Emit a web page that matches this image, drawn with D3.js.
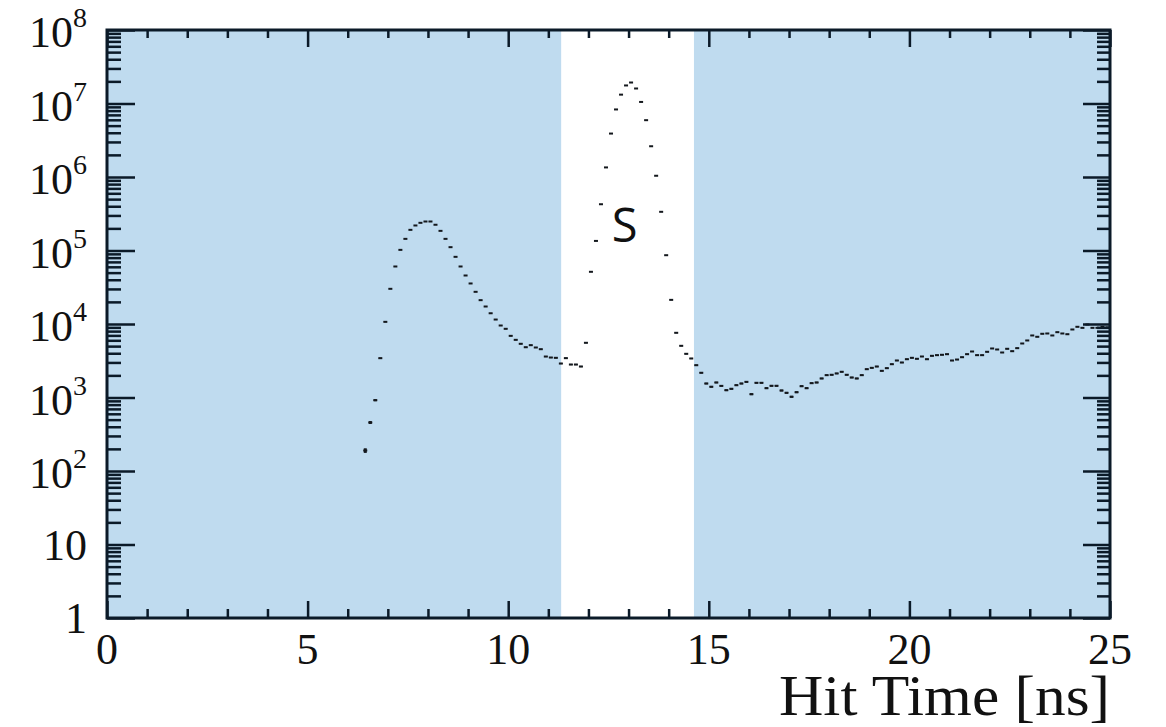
<!DOCTYPE html>
<html>
<head>
<meta charset="utf-8">
<script src="https://cdn.jsdelivr.net/npm/d3@7/dist/d3.min.js"></script>
<style>
  html, body { margin: 0; padding: 0; background: #fff; }
  svg { display: block; }
</style>
</head>
<body>
<svg id="chart" width="1166" height="727"></svg>
<script>
// Histogram binning of hit times (ns)
const binStart = 6.375;
const binWidth = 0.125;

// Entries per bin, starting at binStart
const counts = [
  190, 457, 919, 3427, 10700, 30100, 60600, 102000, 144000, 191000,
  219000, 238000, 248000, 248000, 224000, 185000, 144000, 111000, 82000, 60600,
  45700, 35600, 27400, 21100, 17300, 14000, 11500, 9540, 8600, 6900,
  6090, 5380, 4830, 5150, 4790, 4540, 3610, 3500, 3467, 2900,
  3430, 2810, 2810, 2640, 5550, 51300, 135000, 426000, 1350000, 3900000,
  8300000, 13200000, 17600000, 19300000, 16000000, 10500000, 5930000, 2620000, 1040000, 336000,
  86300, 21300, 7590, 5050, 3930, 3395, 2750, 2170, 1550, 1400,
  1600, 1440, 1257, 1313, 1470, 1550, 1633, 1109, 1585, 1585,
  1339, 1443, 1443, 1245, 1158, 1023, 1180, 1425, 1339, 1566,
  1600, 1815, 2013, 2038, 2124, 2238, 2038, 1871, 1815, 2013,
  2427, 2533, 2640, 2307, 2505, 2838, 3187, 2993, 3318, 3467,
  3362, 3613, 3318, 3690, 3767, 3811, 3884, 3187, 3286, 3533,
  3884, 4226, 3767, 3767, 4186, 4645, 4500, 4094, 4600, 4266,
  4690, 5430, 5970, 6980, 6700, 7360, 7430, 6980, 7740, 7430,
  7260, 8420, 9160, 8870, 9840, 8870, 8870, 9160, 9000
];

// Background (shaded) time windows outside the signal window
const shadedWindows = [[0, 11.32], [14.63, 25]];
const signalLabel = "S";
const signalLabelTime = 12.9;
const signalLabelCount = 1.3e5;

// Axis ticks
const xMajorTicks = [0, 5, 10, 15, 20, 25];
const xMinorTicks = [1, 2, 3, 4, 6, 7, 8, 9, 11, 12, 13, 14, 16, 17, 18, 19, 21, 22, 23, 24];
const yExponents = [0, 1, 2, 3, 4, 5, 6, 7, 8];
const xTitle = "Hit Time [ns]";

const svg = d3.select("#chart");
const margin = { left: 107, top: 30, right: 56, bottom: 109 };
const W = 1166, H = 727;
const plotW = W - margin.left - margin.right;
const plotH = H - margin.top - margin.bottom;

const x = d3.scaleLinear().domain([0, 25]).range([0, plotW]);
const y = d3.scaleLog().domain([1, 1e8]).range([plotH, 0]);

const g = svg.append("g").attr("transform", `translate(${margin.left},${margin.top})`);

// shaded windows
g.selectAll("rect.window")
  .data(shadedWindows)
  .join("rect")
  .attr("class", "window")
  .attr("x", d => x(d[0]))
  .attr("y", 0)
  .attr("width", d => x(d[1]) - x(d[0]))
  .attr("height", plotH)
  .attr("fill", "#bfdbef");

// signal window label
g.append("text")
  .attr("x", x(signalLabelTime))
  .attr("y", y(signalLabelCount))
  .attr("text-anchor", "middle")
  .attr("font-family", "'Open Sans', 'DejaVu Sans', sans-serif")
  .attr("font-size", 47)
  .attr("fill", "#111")
  .text(signalLabel);

// histogram points with statistical error bars
const pts = counts.map((c, i) => ({ t: binStart + (i + 0.5) * binWidth, c }));
const markColor = "#14181d";
const ptG = g.append("g");
ptG.selectAll("rect.pt")
  .data(pts)
  .join("rect")
  .attr("class", "pt")
  .attr("x", d => x(d.t) - 2)
  .attr("y", d => y(d.c) - 1)
  .attr("width", 4)
  .attr("height", 2)
  .attr("fill", markColor);
ptG.selectAll("line.err")
  .data(pts)
  .join("line")
  .attr("class", "err")
  .attr("x1", d => x(d.t))
  .attr("x2", d => x(d.t))
  .attr("y1", d => y(d.c + Math.sqrt(d.c)))
  .attr("y2", d => y(Math.max(1, d.c - Math.sqrt(d.c))))
  .attr("stroke", markColor)
  .attr("stroke-width", 3);

// axes ticks (inward, on all four sides)
const tickColor = "#0b1a28";
function styleAxis(sel) {
  sel.select(".domain").remove();
  sel.selectAll(".tick line").attr("stroke", tickColor).attr("stroke-width", 2.5);
  sel.selectAll(".tick text").remove();
}
const yMinor = [];
for (let e = 0; e < 8; e++) for (let m = 2; m <= 9; m++) yMinor.push(m * Math.pow(10, e));
const yMajor = yExponents.map(e => Math.pow(10, e));

g.append("g").call(d3.axisBottom(x).tickValues(xMajorTicks).tickSize(-17))
  .attr("transform", `translate(0,${plotH})`).call(styleAxis);
g.append("g").call(d3.axisBottom(x).tickValues(xMinorTicks).tickSize(-9))
  .attr("transform", `translate(0,${plotH})`).call(styleAxis);
g.append("g").call(d3.axisTop(x).tickValues(xMajorTicks).tickSize(-17)).call(styleAxis);
g.append("g").call(d3.axisTop(x).tickValues(xMinorTicks).tickSize(-8)).call(styleAxis);
g.append("g").call(d3.axisLeft(y).tickValues(yMajor).tickSize(-28)).call(styleAxis);
g.append("g").call(d3.axisLeft(y).tickValues(yMinor).tickSize(-14)).call(styleAxis);
g.append("g").call(d3.axisRight(y).tickValues(yMajor).tickSize(-27))
  .attr("transform", `translate(${plotW},0)`).call(styleAxis);
g.append("g").call(d3.axisRight(y).tickValues(yMinor).tickSize(-13))
  .attr("transform", `translate(${plotW},0)`).call(styleAxis);

// frame
g.append("rect")
  .attr("x", 0).attr("y", 0)
  .attr("width", plotW).attr("height", plotH)
  .attr("fill", "none")
  .attr("stroke", tickColor)
  .attr("stroke-width", 3);

// x tick labels
const serif = "'Liberation Serif', 'Times New Roman', serif";
g.selectAll("text.xl")
  .data(xMajorTicks)
  .join("text")
  .attr("class", "xl")
  .attr("x", d => x(d))
  .attr("y", plotH + 46)
  .attr("text-anchor", "middle")
  .attr("font-family", serif)
  .attr("font-size", 44)
  .attr("fill", "#111")
  .text(d => d);

// y tick labels (powers of ten)
const yl = g.selectAll("text.yl")
  .data(yExponents)
  .join("text")
  .attr("class", "yl")
  .attr("x", -20)
  .attr("y", d => y(Math.pow(10, d)) + (d < 2 ? 15 : 17))
  .attr("text-anchor", "end")
  .attr("font-family", serif)
  .attr("font-size", 44)
  .attr("fill", "#111");
yl.each(function(d) {
  const t = d3.select(this);
  if (d === 0) { t.text("1"); return; }
  t.append("tspan").text("10");
  if (d > 1) {
    t.append("tspan").attr("dy", -20).attr("font-size", 28).text(d);
  }
});

// x axis title
svg.append("text")
  .attr("x", margin.left + plotW - 331)
  .attr("y", 715)
  .attr("textLength", 331)
  .attr("lengthAdjust", "spacingAndGlyphs")
  .attr("font-family", serif)
  .attr("font-size", 57)
  .attr("fill", "#111")
  .text(xTitle);
</script>
</body>
</html>
